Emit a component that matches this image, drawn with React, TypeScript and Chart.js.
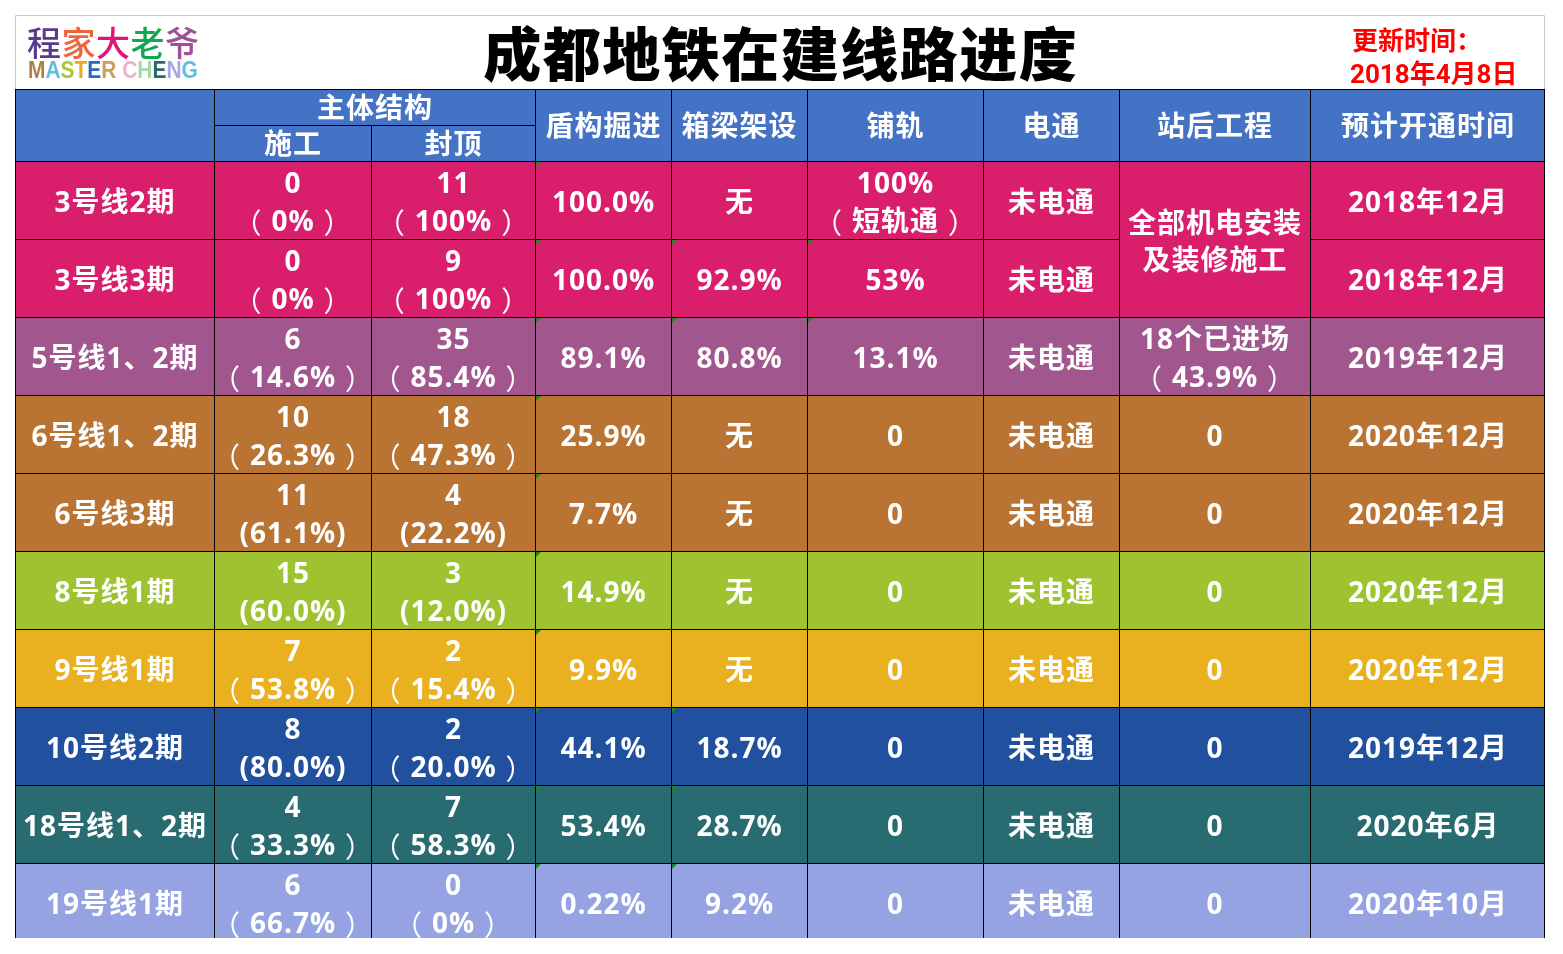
import React, { useEffect, useRef } from "react";
import { Chart, registerables } from "chart.js";

Chart.register(...registerables);

// ---------- texts / data ----------
const TITLE = "成都地铁在建线路进度";
const UPDATE_LABEL = "更新时间：";
const UPDATE_DATE = "2018年4月8日";
const LOGO_CN = ["程", "家", "大", "老", "爷"];
const LOGO_EN = ["M", "A", "S", "T", "E", "R", " ", "C", "H", "E", "N", "G"];

const GROUP_HEADER = "主体结构";
const SUB_HEADERS = ["施工", "封顶"];
const COLUMN_HEADERS = ["", "", "", "盾构掘进", "箱梁架设", "铺轨", "电通", "站后工程", "预计开通时间"];

const LINES = [
  "3号线2期", "3号线3期", "5号线1、2期", "6号线1、2期", "6号线3期",
  "8号线1期", "9号线1期", "10号线2期", "18号线1、2期", "19号线1期",
];
const CONSTRUCTION = [
  "0\n（0%）", "0\n（0%）", "6\n（14.6%）", "10\n（26.3%）", "11\n(61.1%)",
  "15\n(60.0%)", "7\n（53.8%）", "8\n(80.0%)", "4\n（33.3%）", "6\n（66.7%）",
];
const TOPPED = [
  "11\n（100%）", "9\n（100%）", "35\n（85.4%）", "18\n（47.3%）", "4\n(22.2%)",
  "3\n(12.0%)", "2\n（15.4%）", "2\n（20.0%）", "7\n（58.3%）", "0\n（0%）",
];
const SHIELD = ["100.0%", "100.0%", "89.1%", "25.9%", "7.7%", "14.9%", "9.9%", "44.1%", "53.4%", "0.22%"];
const GIRDER = ["无", "92.9%", "80.8%", "无", "无", "无", "无", "18.7%", "28.7%", "9.2%"];
const TRACK = ["100%\n（短轨通）", "53%", "13.1%", "0", "0", "0", "0", "0", "0", "0"];
const POWER = ["未电通", "未电通", "未电通", "未电通", "未电通", "未电通", "未电通", "未电通", "未电通", "未电通"];
// null = merged with the cell above
const STATION = ["全部机电安装\n及装修施工", null, "18个已进场\n（43.9%）", "0", "0", "0", "0", "0", "0", "0"];
const OPENING = [
  "2018年12月", "2018年12月", "2019年12月", "2020年12月", "2020年12月",
  "2020年12月", "2020年12月", "2019年12月", "2020年6月", "2020年10月",
];
const COLUMNS = [LINES, CONSTRUCTION, TOPPED, SHIELD, GIRDER, TRACK, POWER, STATION, OPENING];

// ---------- styles / layout ----------
const ROW_COLORS = [
  "#D91F6C", "#D91F6C", "#A2568E", "#B97433", "#B97433",
  "#9FC330", "#E9B020", "#21509F", "#286C72", "#95A3E2",
];
const HEADER_COLOR = "#4472C4";
const LOGO_CN_COLORS = ["#5A3A8C", "#F0643C", "#E0147A", "#12A650", "#A0509A"];
const LOGO_EN_COLORS = [
  "#B07E45", "#5BC0DE", "#A8C838", "#E8A828", "#2A6AB8", "#C8A060", "#fff",
  "#F0B0C8", "#A8D8A8", "#2A6A6A", "#A8A8E0", "#58C0E8",
];
const COL_EDGES = [0, 199, 356, 520, 656, 792, 968, 1104, 1295, 1530];
const HEADER_UNITS = 72 / 78;
const TITLE_UNITS = 74 / 78;
const FONT = "'Open Sans', 'Noto Sans CJK SC', sans-serif";
const FONT_SIZE = 28;
const CELL_FONT = `bold ${FONT_SIZE}px ${FONT}`;
const PAREN_FONT = `400 ${FONT_SIZE}px 'Noto Sans CJK SC', sans-serif`;
const PAREN_SLOT = 28;
const SPACING = 1;
const LINE_GAP = 38;
const CELL_DY = 4.5;
const HEAD_DY = 3.5;

const isPercentText = (s: string | null) => !!s && /^[\d.]+%$/.test(s);

function drawLine(ctx: CanvasRenderingContext2D, line: string, cx: number, cy: number) {
  const segs: { t: string; paren: boolean }[] = [];
  let buf = "";
  for (const ch of line) {
    if (ch === "（" || ch === "）") {
      if (buf) segs.push({ t: buf, paren: false });
      buf = "";
      segs.push({ t: ch, paren: true });
    } else buf += ch;
  }
  if (buf) segs.push({ t: buf, paren: false });
  ctx.font = CELL_FONT;
  const widths = segs.map((s) => (s.paren ? PAREN_SLOT + SPACING : ctx.measureText(s.t).width));
  const total = widths.reduce((a, b) => a + b, 0) - SPACING;
  let x = cx - total / 2;
  ctx.textAlign = "left";
  segs.forEach((s, i) => {
    if (s.paren) {
      ctx.font = PAREN_FONT;
      const m = ctx.measureText(s.t);
      const off = (m.actualBoundingBoxRight - m.actualBoundingBoxLeft) / 2;
      ctx.fillText(s.t, x + PAREN_SLOT / 2 - off, cy);
      ctx.font = CELL_FONT;
    } else {
      ctx.fillText(s.t, x, cy);
    }
    x += widths[i];
  });
}

function drawText(ctx: CanvasRenderingContext2D, text: string, cx: number, cy: number, gap = LINE_GAP) {
  const lines = text.split("\n");
  lines.forEach((ln, i) => drawLine(ctx, ln, cx, cy + (i - (lines.length - 1) / 2) * gap));
}

const tablePlugin = {
  id: "metroTable",
  afterDraw(chart: any) {
    const { ctx, chartArea, scales } = chart;
    const X = (v: number) => scales.x.getPixelForValue(v);
    const Y = (v: number) => scales.y.getPixelForValue(v);
    const nCols = COL_EDGES.length - 1;
    const nRows = LINES.length;
    const left = X(0);
    const right = X(COL_EDGES[nCols]);
    const frameTop = Y(-HEADER_UNITS - TITLE_UNITS);
    const headTop = Y(-HEADER_UNITS);
    const headMid = Y(-HEADER_UNITS / 2);
    const headBot = Y(0);

    ctx.save();

    // title frame
    ctx.strokeStyle = "#C8C8C8";
    ctx.lineWidth = 1;
    ctx.beginPath();
    ctx.moveTo(left + 0.5, headTop);
    ctx.lineTo(left + 0.5, Math.round(frameTop) + 0.5);
    ctx.lineTo(right - 0.5, Math.round(frameTop) + 0.5);
    ctx.lineTo(right - 0.5, headTop);
    ctx.stroke();

    // title
    ctx.fillStyle = "#000";
    ctx.textAlign = "center";
    ctx.textBaseline = "middle";
    ctx.font = `900 58px 'Noto Sans CJK SC', sans-serif`;
    ctx.letterSpacing = "1.5px";
    ctx.fillText(TITLE, (left + right) / 2 + 0.75, (frameTop + headTop) / 2 + 2);

    // logo
    ctx.letterSpacing = "0px";
    ctx.textAlign = "left";
    ctx.font = `500 34px 'Noto Sans CJK SC', sans-serif`;
    let lx = left + 12;
    LOGO_CN.forEach((c, i) => {
      ctx.fillStyle = LOGO_CN_COLORS[i];
      ctx.fillText(c, lx, frameTop + 28);
      lx += 34.5;
    });
    ctx.save();
    ctx.translate(left + 13, frameTop + 57);
    ctx.scale(0.91, 1);
    ctx.font = `bold 23px 'Liberation Sans', Arial, sans-serif`;
    lx = 0;
    LOGO_EN.forEach((c, i) => {
      ctx.fillStyle = LOGO_EN_COLORS[i];
      ctx.fillText(c, lx, 0);
      lx += ctx.measureText(c).width;
    });
    ctx.restore();

    // update time
    ctx.fillStyle = "#FF0000";
    ctx.font = `bold 26px Roboto, 'Noto Sans CJK SC', sans-serif`;
    ctx.fillText(UPDATE_LABEL, X(COL_EDGES[8]) + 42, frameTop + 28);
    ctx.fillText(UPDATE_DATE, X(COL_EDGES[8]) + 40, frameTop + 61);

    // clip table to chart area bottom
    ctx.beginPath();
    ctx.rect(0, 0, chart.width, chartArea.bottom);
    ctx.clip();

    // fills
    ctx.fillStyle = HEADER_COLOR;
    ctx.fillRect(left, headTop, right - left, headBot - headTop);
    for (let r = 0; r < nRows; r++) {
      ctx.fillStyle = ROW_COLORS[r];
      ctx.fillRect(left, Y(r), right - left, Y(r + 1) - Y(r));
    }

    // grid lines
    ctx.strokeStyle = "#000";
    ctx.lineWidth = 1;
    ctx.beginPath();
    const vx = (k: number) => (k === nCols ? Math.round(X(COL_EDGES[k])) - 0.5 : Math.round(X(COL_EDGES[k])) + 0.5);
    const hy = (v: number) => Math.round(v) + 0.5;
    ctx.moveTo(left, hy(headTop));
    ctx.lineTo(right, hy(headTop));
    ctx.moveTo(vx(1), hy(headMid));
    ctx.lineTo(vx(3), hy(headMid));
    for (let r = 0; r <= nRows; r++) {
      for (let c = 0; c < nCols; c++) {
        if (r < nRows && COLUMNS[c][r] === null) continue;
        ctx.moveTo(X(COL_EDGES[c]), hy(Y(r)));
        ctx.lineTo(X(COL_EDGES[c + 1]), hy(Y(r)));
      }
    }
    for (let k = 0; k <= nCols; k++) {
      ctx.moveTo(vx(k), k === 2 ? headMid : headTop);
      ctx.lineTo(vx(k), Y(nRows));
    }
    ctx.stroke();

    // excel green markers
    ctx.fillStyle = "#1E8A1E";
    for (let r = 0; r < nRows; r++) {
      for (let c = 3; c <= 5; c++) {
        if (!isPercentText(COLUMNS[c][r])) continue;
        const x0 = Math.round(X(COL_EDGES[c])) + 1;
        const y0 = Math.round(Y(r)) + 1;
        ctx.beginPath();
        ctx.moveTo(x0, y0);
        ctx.lineTo(x0 + 5, y0);
        ctx.lineTo(x0, y0 + 5);
        ctx.closePath();
        ctx.fill();
      }
    }

    // texts
    ctx.fillStyle = "#FFFFFF";
    ctx.textBaseline = "middle";
    ctx.letterSpacing = `${SPACING}px`;
    const colCenter = (a: number, b: number) => (X(COL_EDGES[a]) + X(COL_EDGES[b])) / 2;
    drawText(ctx, GROUP_HEADER, colCenter(1, 3), (headTop + headMid) / 2 + HEAD_DY);
    drawText(ctx, SUB_HEADERS[0], colCenter(1, 2), (headMid + headBot) / 2 + HEAD_DY);
    drawText(ctx, SUB_HEADERS[1], colCenter(2, 3), (headMid + headBot) / 2 + HEAD_DY);
    COLUMN_HEADERS.forEach((h, c) => {
      if (h) drawText(ctx, h, colCenter(c, c + 1), (headTop + headBot) / 2 + HEAD_DY);
    });

    for (let c = 0; c < nCols; c++) {
      for (let r = 0; r < nRows; r++) {
        const v = COLUMNS[c][r];
        if (v === null) continue;
        let span = 1;
        while (r + span < nRows && COLUMNS[c][r + span] === null) span++;
        const cy = (Y(r) + Y(r + span)) / 2 + CELL_DY;
        drawText(ctx, v, colCenter(c, c + 1), cy, span > 1 ? 37 : LINE_GAP);
      }
    }

    ctx.restore();
  },
};

export default function App() {
  const ref = useRef<HTMLCanvasElement>(null);
  useEffect(() => {
    const canvas = ref.current!;
    const chart = new Chart(canvas, {
      type: "scatter",
      data: { datasets: [] },
      options: {
        responsive: false,
        animation: false,
        events: [],
        layout: { padding: { left: 15, top: 89, right: 18, bottom: 16 } },
        plugins: { legend: { display: false }, tooltip: { enabled: false } },
        scales: {
          x: { type: "linear", display: false, min: 0, max: COL_EDGES[COL_EDGES.length - 1] },
          y: { type: "linear", display: false, reverse: true, min: -HEADER_UNITS, max: LINES.length - 3 / 78 },
        },
      },
      plugins: [tablePlugin],
    } as any);
    return () => chart.destroy();
  }, []);
  return (
    <div style={{ position: "absolute", left: 0, top: 0, width: 1563, height: 954, background: "#fff" }}>
      <canvas ref={ref} width={1563} height={954} style={{ display: "block", width: 1563, height: 954 }} />
    </div>
  );
}
